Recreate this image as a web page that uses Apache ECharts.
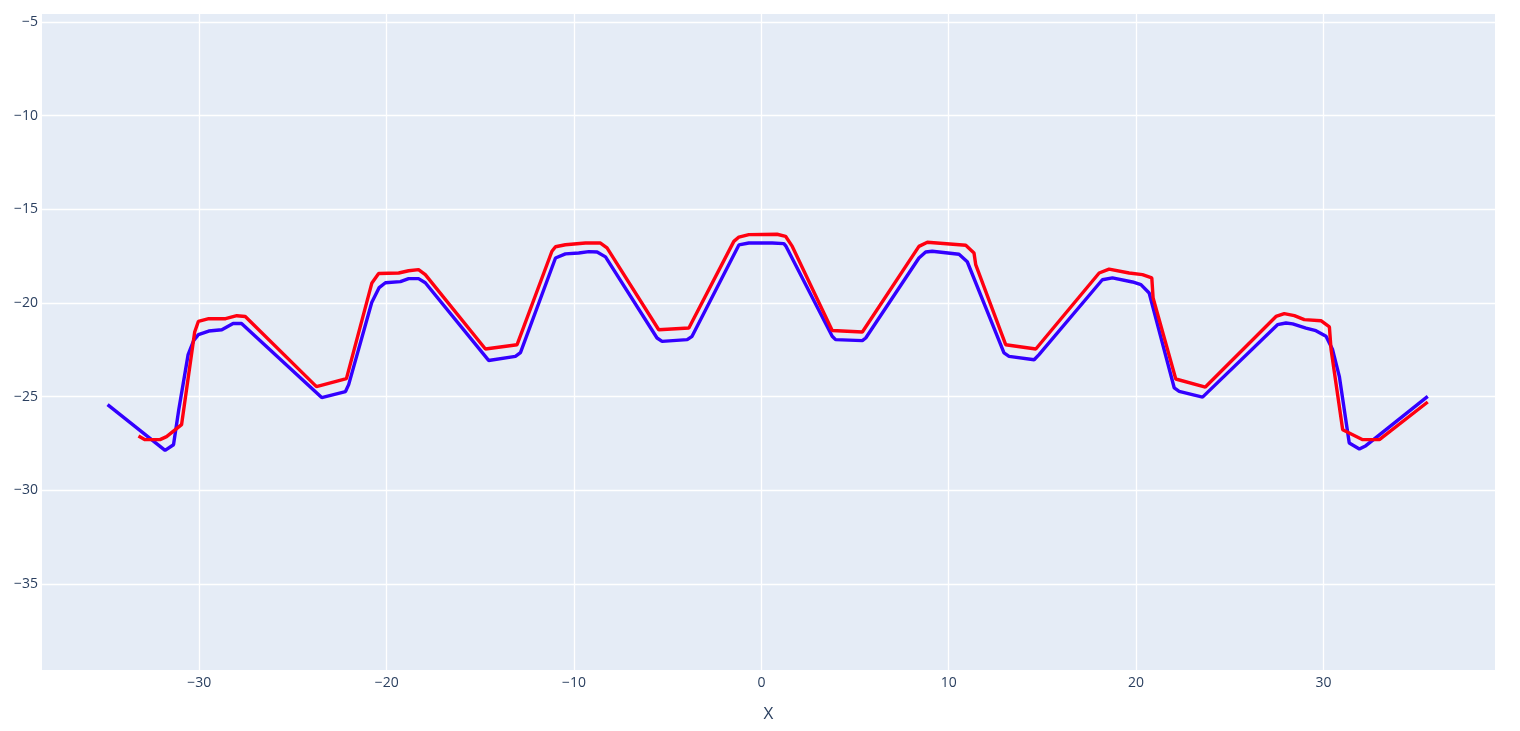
<!DOCTYPE html>
<html>
<head>
<meta charset="utf-8">
<script src="https://cdn.jsdelivr.net/npm/echarts@6/dist/echarts.min.js"></script>
<style>
  html, body { margin: 0; padding: 0; background: #fff; }
  #chart { width: 1520px; height: 731px; }
</style>
</head>
<body>
<div id="chart"></div>
<script>
// tick labels
const xTicks = [-30, -20, -10, 0, 10, 20, 30];
const yTicks = [-35, -30, -25, -20, -15, -10, -5];

// blue profile
const blueX = [-34.9, -31.83, -31.38, -31.1, -30.6, -30.3, -30.05, -29.5, -28.8, -28.2, -27.75,
  -23.47, -22.2, -22.03, -20.8, -20.4, -20.07, -19.27, -18.83, -18.3, -17.94,
  -14.56, -13.13, -12.86, -10.99, -10.46, -9.75, -9.21, -8.77, -8.32,
  -5.57, -5.3, -3.96, -3.7, -1.2, -0.67, 0.58, 1.2, 1.3,
  3.78, 3.96, 5.39, 5.57, 8.41, 8.77, 9.12, 10.55, 10.99,
  12.95, 13.22, 14.56, 14.82, 18.2, 18.74, 19.81, 20.26, 20.7,
  22.04, 22.3, 23.55, 27.55, 28.0, 28.36, 29.07, 29.6, 30.14, 30.49, 30.85,
  31.38, 31.92, 32.27, 35.57];
const blueY = [-25.43, -27.87, -27.57, -25.7, -22.76, -22.0, -21.69, -21.5, -21.43, -21.1, -21.1,
  -25.05, -24.73, -24.36, -19.98, -19.18, -18.92, -18.86, -18.7, -18.7, -18.92,
  -23.07, -22.85, -22.65, -17.6, -17.38, -17.33, -17.26, -17.28, -17.54,
  -21.87, -22.05, -21.96, -21.78, -16.9, -16.8, -16.8, -16.83, -16.95,
  -21.78, -21.96, -22.01, -21.87, -17.6, -17.28, -17.24, -17.4, -17.8,
  -22.67, -22.85, -23.03, -22.76, -18.76, -18.66, -18.88, -19.02, -19.47,
  -24.54, -24.72, -25.03, -21.16, -21.07, -21.12, -21.34, -21.48, -21.78, -22.49, -23.92,
  -27.48, -27.8, -27.62, -24.99];

// red profile
const redX = [-33.25, -32.9, -32.1, -31.75, -30.95, -30.25, -30.05, -29.5, -28.6, -28.0, -27.55,
  -23.75, -22.15, -20.79, -20.43, -19.36, -18.83, -18.3, -17.94,
  -14.73, -13.04, -11.18, -10.99, -10.46, -9.39, -8.59, -8.24,
  -5.48, -3.87, -1.47, -1.2, -0.67, 0.84, 1.29, 1.65,
  3.78, 5.39, 8.41, 8.86, 10.91, 11.35, 11.44,
  13.04, 14.65, 18.03, 18.56, 19.63, 20.34, 20.84, 20.91,
  22.12, 23.7, 27.47, 27.91, 28.45, 28.98, 29.87, 30.32, 30.41,
  31.03, 32.1, 32.99, 35.57];
const redY = [-27.1, -27.3, -27.3, -27.14, -26.5, -21.55, -20.98, -20.84, -20.84, -20.68, -20.72,
  -24.47, -24.04, -18.93, -18.43, -18.4, -18.28, -18.22, -18.49,
  -22.46, -22.23, -17.24, -17.0, -16.89, -16.8, -16.8, -17.06,
  -21.43, -21.34, -16.71, -16.48, -16.35, -16.33, -16.44, -16.98,
  -21.47, -21.55, -16.98, -16.76, -16.92, -17.33, -17.95,
  -22.23, -22.46, -18.4, -18.19, -18.4, -18.49, -18.66, -19.73,
  -24.06, -24.49, -20.72, -20.57, -20.68, -20.89, -20.95, -21.28, -22.49,
  -26.77, -27.3, -27.3, -25.29];

const zip = (xs, ys) => xs.map((x, i) => [x, ys[i]]);
// plotly style minus sign
const fmt = v => String(v).replace('-', '\u2212');

const labelStyle = { color: '#2a3f5f', fontFamily: 'Open Sans', fontSize: 14, formatter: fmt };
const gridLine = { show: true, lineStyle: { color: '#fff', width: 1.3 } };

const option = {
  animation: false,
  backgroundColor: '#fff',
  grid: {
    left: 42, right: 25, top: 14, bottom: 61,
    show: true, backgroundColor: '#e5ecf6', borderWidth: 0
  },
  xAxis: {
    type: 'value',
    min: -38.4, max: 39.16,
    name: 'X',
    nameLocation: 'middle',
    nameGap: 36,
    nameTextStyle: { color: '#2a3f5f', fontFamily: 'Open Sans', fontSize: 17 },
    axisLine: { show: false },
    axisTick: { show: false, customValues: xTicks },
    axisLabel: Object.assign({ customValues: xTicks, margin: 6 }, labelStyle),
    splitLine: gridLine
  },
  yAxis: {
    type: 'value',
    min: -39.6, max: -4.57,
    axisLine: { show: false },
    axisTick: { show: false, customValues: yTicks },
    axisLabel: Object.assign({ customValues: yTicks, margin: 4 }, labelStyle),
    splitLine: gridLine
  },
  series: [
    {
      name: 'blue',
      type: 'line',
      data: zip(blueX, blueY),
      showSymbol: false,
      lineStyle: { color: '#3300ff', width: 3.4 },
      itemStyle: { color: '#3300ff' }
    },
    {
      name: 'red',
      type: 'line',
      data: zip(redX, redY),
      showSymbol: false,
      lineStyle: { color: '#ff0010', width: 3.4 },
      itemStyle: { color: '#ff0010' }
    }
  ]
};

const myChart = echarts.init(document.getElementById('chart'));
myChart.setOption(option);
window.addEventListener('resize', () => { myChart.resize(); });
</script>
</body>
</html>
